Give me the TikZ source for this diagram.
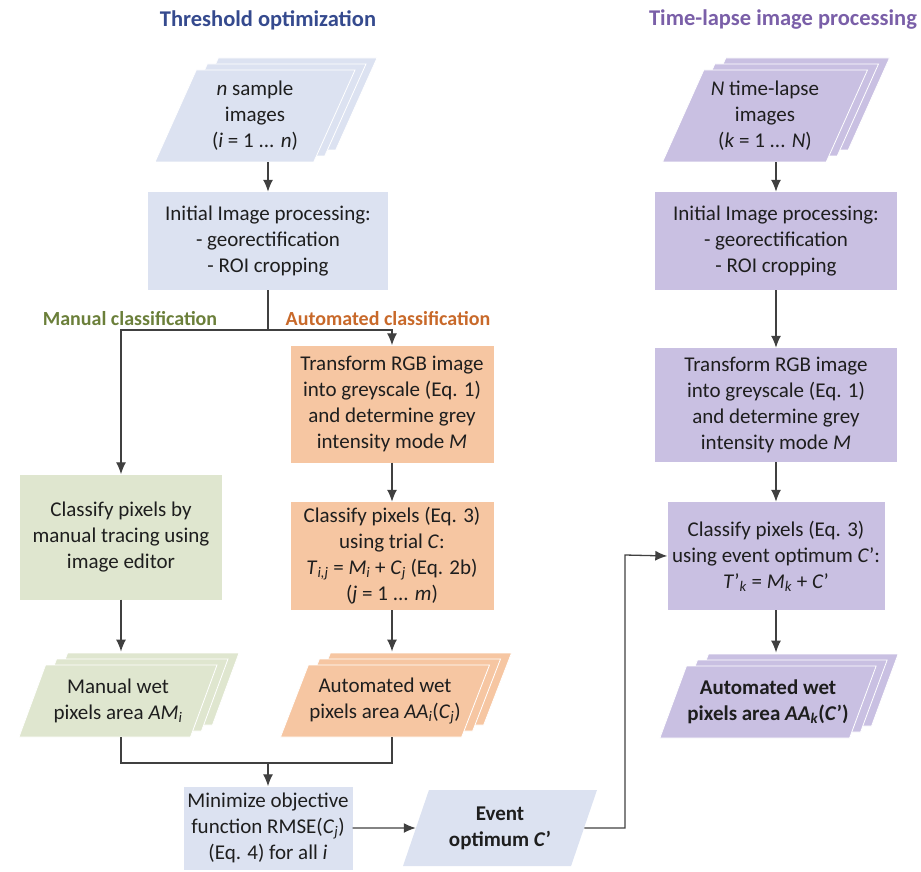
\documentclass[tikz,border=0pt]{standalone}
\usepackage{fontspec}
\setmainfont{Carlito}
\usetikzlibrary{positioning,arrows.meta,shapes.geometric,shadows,calc}

\definecolor{fillblue}{HTML}{DCE2F1}
\definecolor{fillpurple}{HTML}{C9C0E2}
\definecolor{fillgreen}{HTML}{DFE6CF}
\definecolor{fillorange}{HTML}{F6C6A2}
\definecolor{titleblue}{HTML}{354A8E}
\definecolor{titlepurple}{HTML}{7A5FA8}
\definecolor{labgreen}{HTML}{6B7F3A}
\definecolor{laborange}{HTML}{C8692A}
\definecolor{linegrey}{HTML}{404040}
\definecolor{txtgrey}{HTML}{1E1E1E}

\begin{document}
\begin{tikzpicture}[x=1pt, y=-1pt, font=\fontsize{21}{26}\selectfont, text=txtgrey,
    box/.style={align=center, inner sep=2pt},
    pgram/.style={trapezium, trapezium left angle=60, trapezium right angle=120, trapezium stretches body, align=center, inner sep=1pt},
    pile/.style={pgram, draw=white, line width=0.8pt, double copy shadow={shadow xshift=11pt, shadow yshift=6pt}},
    heading/.style={font=\fontsize{22.5}{27}\selectfont\bfseries},
    branch/.style={font=\fontsize{20}{24}\selectfont\bfseries},
    lnk/.style={line width=1.3pt, draw=linegrey},
    arr/.style={lnk, -{Latex[length=12pt, width=10pt]}}]
\useasboundingbox (0,0) rectangle (921,872);

% headings
\node[heading, text=titleblue] (ttlL) at (268,20) {Threshold optimization};
\node[heading, text=titlepurple] (ttlR) at (783,20) {Time-lapse image processing};
\node[branch, text=labgreen] (manlab) at (130,319) {Manual classification};
\node[branch, text=laborange] (autolab) at (388,319) {Automated classification};

% threshold optimization
\node[pile, fill=fillblue, minimum width=200pt, minimum height=92pt] (nsamp) at (255,116) {\textit{n} sample\\images\\(\textit{i} = 1 ... \textit{n})};
\node[box, fill=fillblue, minimum width=240pt, minimum height=98pt] (init) at (268,241) {Initial Image processing:\\- georectification\\- ROI cropping};
\node[box, fill=fillorange, minimum width=203pt, minimum height=117pt] (trans) at (392,404) {Transform RGB image\\into greyscale (Eq. 1)\\and determine grey\\intensity mode \textit{M}};
\node[box, fill=fillorange, minimum width=203pt, minimum height=108pt] (clsauto) at (392,556) {Classify pixels (Eq. 3)\\using trial \textit{C}:\\\textit{T}\textsubscript{\textit{i,j}} = \textit{M}\textsubscript{\textit{i}} + \textit{C}\textsubscript{\textit{j}} (Eq. 2b)\\(\textit{j} = 1 ... \textit{m})};
\node[pile, fill=fillorange, minimum width=198pt, minimum height=72pt] (aawet) at (385,701) {Automated wet\\pixels area \textit{AA}\textsubscript{\textit{i}}(\textit{C}\textsubscript{\textit{j}})};
\node[box, fill=fillgreen, minimum width=202pt, minimum height=125pt] (mancls) at (121,537) {Classify pixels by\\manual tracing using\\image editor};
\node[pile, fill=fillgreen, minimum width=198pt, minimum height=72pt] (manwet) at (118,701) {Manual wet\\pixels area \textit{AM}\textsubscript{\textit{i}}};
\node[box, fill=fillblue, minimum width=169pt, minimum height=83pt] (minim) at (268,828) {Minimize objective\\function RMSE(\textit{C}\textsubscript{\textit{j}})\\(Eq. 4) for all \textit{i}};
\node[pgram, fill=fillblue, minimum width=194pt, minimum height=76pt] (event) at (500,828) {\textbf{Event}\\\textbf{optimum \textit{C}'}};

% time-lapse image processing
\node[pile, fill=fillpurple, minimum width=205pt, minimum height=92pt] (nsampR) at (765,116) {\textit{N} time-lapse\\images\\(\textit{k} = 1 ... \textit{N})};
\node[box, fill=fillpurple, minimum width=242pt, minimum height=98pt] (initR) at (776,241) {Initial Image processing:\\- georectification\\- ROI cropping};
\node[box, fill=fillpurple, minimum width=242pt, minimum height=114pt] (transR) at (776,405) {Transform RGB image\\into greyscale (Eq. 1)\\and determine grey\\intensity mode \textit{M}};
\node[box, fill=fillpurple, minimum width=217pt, minimum height=108pt] (clsR) at (776,556) {Classify pixels (Eq. 3)\\using event optimum \textit{C}':\\\textit{T}'\textsubscript{\textit{k}} = \textit{M}\textsubscript{\textit{k}} + \textit{C}'};
\node[pile, fill=fillpurple, minimum width=195pt, minimum height=72pt, font=\fontsize{21}{26}\selectfont\bfseries] (aaR) at (768,702) {Automated wet\\pixels area \textit{AA}\textsubscript{\textit{k}}(\textit{C}')};

% connectors
\coordinate (split) at (268,330);
\coordinate (join) at (268,763);
\coordinate (turn) at (625,555);
\draw[arr] (init.north |- nsamp.south) -- (init.north);
\draw[arr] (initR.north |- nsampR.south) -- (initR.north);
\draw[lnk] (init.south) -- (split);
\draw[arr] (split) -| (trans.north);
\draw[arr] (split) -| (mancls.north);
\foreach \a/\b in {trans/clsauto, initR/transR, transR/clsR}
  \draw[arr] (\a.south) -- (\b.north);
\foreach \a/\b in {clsauto/aawet, mancls/manwet, clsR/aaR}
  \draw[arr, shorten >=13pt] (\a.south) -- (\a.south |- \b.north);
\draw[lnk] (mancls.south |- manwet.south) |- (join);
\draw[lnk] (clsauto.south |- aawet.south) |- (join);
\draw[arr] (join) -- (minim.north);
\draw[arr] (minim.east) -- (event.west);
\draw[arr] (event.east) -| (turn) -- (clsR.west);
\end{tikzpicture}
\end{document}
